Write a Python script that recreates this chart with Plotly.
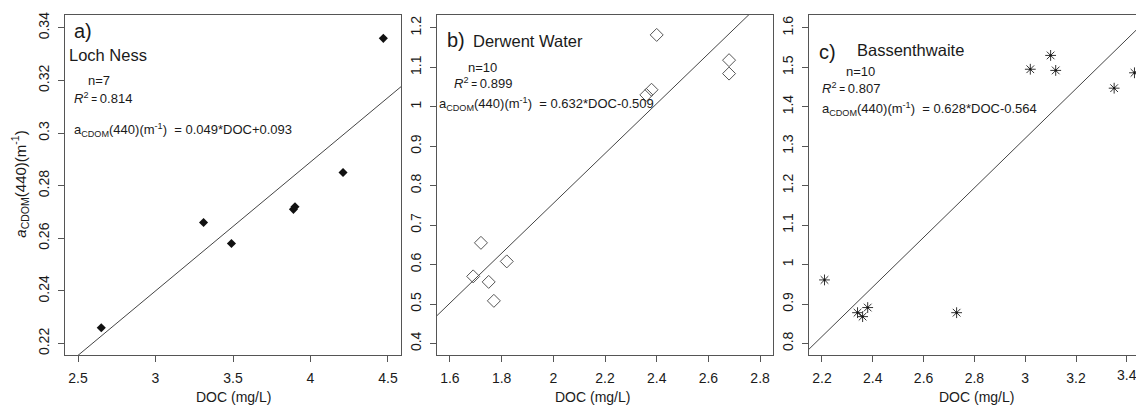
import plotly.graph_objects as go

W, H = 1136, 405

# ---------------- data ----------------
loch_ness_doc = [2.65, 3.31, 3.49, 3.89, 3.90, 4.21, 4.47]
loch_ness_acdom = [0.226, 0.266, 0.258, 0.271, 0.272, 0.285, 0.336]

derwent_doc = [1.69, 1.72, 1.75, 1.77, 1.82, 2.36, 2.38, 2.40, 2.68, 2.68]
derwent_acdom = [0.570, 0.655, 0.556, 0.508, 0.608, 1.030, 1.043, 1.182, 1.118, 1.084]

bassen_doc = [2.21, 2.34, 2.36, 2.38, 2.73, 3.02, 3.10, 3.12, 3.35, 3.43]
bassen_acdom = [0.961, 0.878, 0.868, 0.891, 0.878, 1.495, 1.530, 1.492, 1.447, 1.486]

fit_slope = [0.049, 0.632, 0.628]
fit_intercept = [0.093, -0.509, -0.564]
fit_n = [7, 10, 10]
fit_r2 = ["0.814", "0.899", "0.807"]
fit_eq = ["0.049*DOC+0.093", "0.632*DOC-0.509", "0.628*DOC-0.564"]
panel_letters = ["a)", "b)", "c)"]
lake_names = ["Loch Ness", "Derwent Water", "Bassenthwaite"]

x_tickvals = [[2.5, 3, 3.5, 4, 4.5],
              [1.6, 1.8, 2.0, 2.2, 2.4, 2.6, 2.8],
              [2.2, 2.4, 2.6, 2.8, 3.0, 3.2, 3.4]]
x_ticktext = [["2.5", "3", "3.5", "4", "4.5"],
              ["1.6", "1.8", "2", "2.2", "2.4", "2.6", "2.8"],
              ["2.2", "2.4", "2.6", "2.8", "3", "3.2", "3.4"]]
y_tickvals = [[0.22, 0.24, 0.26, 0.28, 0.30, 0.32, 0.34],
              [0.4, 0.5, 0.6, 0.7, 0.8, 0.9, 1.0, 1.1, 1.2],
              [0.8, 0.9, 1.0, 1.1, 1.2, 1.3, 1.4, 1.5, 1.6]]
y_ticktext = [["0.22", "0.24", "0.26", "0.28", "0.3", "0.32", "0.34"],
              ["0.4", "0.5", "0.6", "0.7", "0.8", "0.9", "1", "1.1", "1.2"],
              ["0.8", "0.9", "1", "1.1", "1.2", "1.3", "1.4", "1.5", "1.6"]]

# ---------------- layout geometry ----------------
x_ranges = [[2.416, 4.584], [1.55, 2.85], [2.149, 3.436]]
y_ranges = [[0.2155, 0.3449], [0.3698, 1.2327], [0.7698, 1.6327]]
x_domains_px = [(65, 401), (437, 773), (809, 1136)]
y_dom = [(H - 355) / H, (H - 12) / H]

FONT = "Liberation Sans, Arial, sans-serif"
AX = "#555555"
TXT = "#1a1a1a"

fig = go.Figure()

series = [(loch_ness_doc, loch_ness_acdom,
           dict(symbol="diamond", size=7, color="#111111", line=dict(width=0))),
          (derwent_doc, derwent_acdom,
           dict(symbol="diamond-open", size=10, color="#555555", line=dict(width=1, color="#555555"))),
          (bassen_doc, bassen_acdom,
           dict(symbol="asterisk-open", size=9, color="#333333", line=dict(width=1, color="#333333")))]

for i, (xd, yd, mk) in enumerate(series):
    xa = "x" if i == 0 else f"x{i+1}"
    ya = "y" if i == 0 else f"y{i+1}"
    lx = list(x_ranges[i])
    ly = [fit_slope[i] * v + fit_intercept[i] for v in lx]
    fig.add_trace(go.Scatter(x=lx, y=ly, mode="lines", xaxis=xa, yaxis=ya,
                             line=dict(color="#444444", width=1), showlegend=False,
                             hoverinfo="skip"))
    fig.add_trace(go.Scatter(x=xd, y=yd, mode="markers", xaxis=xa, yaxis=ya,
                             marker=mk, showlegend=False, cliponaxis=False))
    if i == 2:
        fig.add_trace(go.Scatter(x=xd, y=yd, mode="markers", xaxis=xa, yaxis=ya,
                                 marker=dict(symbol="square", size=2, color="#111111"),
                                 showlegend=False, cliponaxis=False))

layout = dict(width=W, height=H, margin=dict(l=0, r=0, t=0, b=0),
              paper_bgcolor="white", plot_bgcolor="white",
              font=dict(family=FONT, size=14, color=TXT), showlegend=False)

for i in range(3):
    sx = "" if i == 0 else str(i + 1)
    x0, x1 = x_domains_px[i]
    layout["xaxis" + sx] = dict(
        domain=[x0 / W, min(x1 / W, 1.0)], range=x_ranges[i], anchor="y" + sx,
        tickvals=x_tickvals[i], ticktext=x_ticktext[i],
        showline=True, linecolor=AX, linewidth=1, mirror=True,
        ticks="outside", ticklen=6, tickcolor=AX, tickwidth=1,
        showgrid=False, zeroline=False, ticklabelstandoff=4,
        tickfont=dict(size=14, color=TXT, family=FONT))
    layout["yaxis" + sx] = dict(
        domain=list(y_dom), range=y_ranges[i], anchor="x" + sx,
        tickvals=y_tickvals[i], ticktext=y_ticktext[i], tickangle=-90,
        showline=True, linecolor=AX, linewidth=1, mirror=(i < 2),
        ticks="outside", ticklen=6, tickcolor=AX, tickwidth=1,
        showgrid=False, zeroline=False, ticklabelstandoff=3,
        tickfont=dict(size=14, color=TXT, family=FONT))

fig.update_layout(**layout)


def px(x, y):
    return x / W, 1 - y / H


def ann(x, y, text, size, xanchor="left", yanchor="middle", angle=0):
    ax, ay = px(x, y)
    fig.add_annotation(x=ax, y=ay, xref="paper", yref="paper", text=text,
                       showarrow=False, xanchor=xanchor, yanchor=yanchor,
                       textangle=angle, font=dict(family=FONT, size=size, color=TXT))


# panel text positions (pixels): letter, name, n, R2, equation
letter_pos = [(72, 28), (445, 37), (817, 49)]
name_pos = [(67, 52), (471, 38), (855, 47)]
n_pos = [(86, 78), (466, 65), (844, 69)]
r2_pos = [(72, 96), (452, 81), (820, 86)]
eq_pos = [(72, 128), (437, 102), (820, 107)]
xtitle_cx = [233, 592, 976]

for i in range(3):
    ann(*letter_pos[i], panel_letters[i], 20)
    ann(*name_pos[i], lake_names[i], 16.5)
    ann(*n_pos[i], f"n={fit_n[i]}", 13)
    ann(*r2_pos[i], f"<i>R</i><sup>2</sup><span style='font-size:10px'> = </span>{fit_r2[i]}", 13)
    ann(*eq_pos[i], f"a<sub>CDOM</sub>(440)(m<sup>-1</sup>)&nbsp; = {fit_eq[i]}", 13)
    ann(xtitle_cx[i], 397, "DOC (mg/L)", 14, xanchor="center")

# last tick label of panel c sits at the window edge (plotly hides it), draw it explicitly
fig.add_annotation(x=x_tickvals[2][-1], xref="x3", y=1 - 375 / H, yref="paper",
                   text=x_ticktext[2][-1], showarrow=False, xanchor="center", yanchor="middle",
                   font=dict(family=FONT, size=14, color=TXT))

ann(20, 183, "<i>a</i><sub>CDOM</sub>(440)(m<sup>-1</sup>)", 15, xanchor="center", angle=-90)

fig.write_html("out.html")
